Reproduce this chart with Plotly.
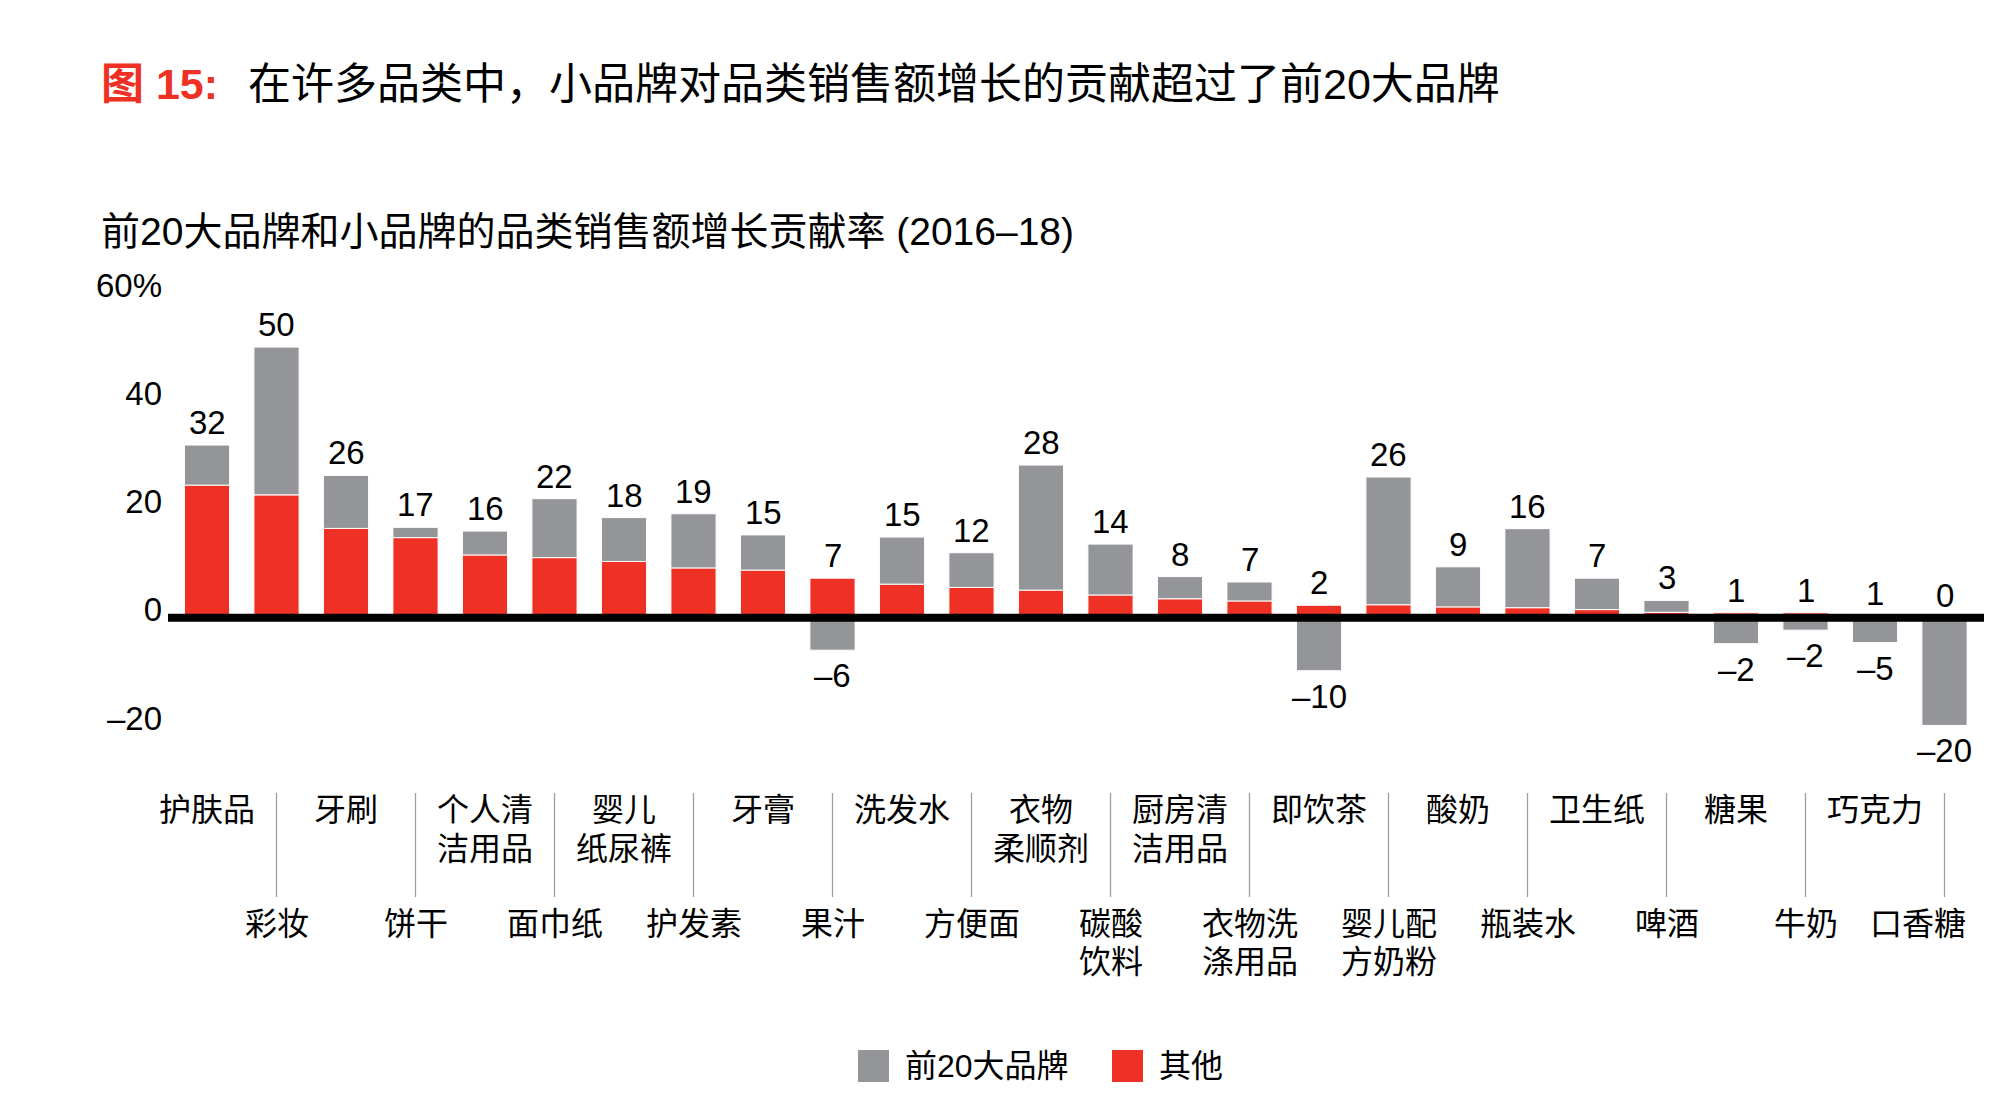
import plotly.graph_objects as go

# ---------------- data ----------------
categories = ["护肤品", "彩妆", "牙刷", "饼干", "个人清\n洁用品", "面巾纸", "婴儿\n纸尿裤", "护发素",
              "牙膏", "果汁", "洗发水", "方便面", "衣物\n柔顺剂", "碳酸\n饮料", "厨房清\n洁用品",
              "衣物洗\n涤用品", "即饮茶", "婴儿配\n方奶粉", "酸奶", "瓶装水", "卫生纸", "啤酒",
              "糖果", "牛奶", "巧克力", "口香糖"]
others = [24.5, 22.7, 16.5, 14.8, 11.6, 11.1, 10.4, 9.2, 8.8, 7.3, 6.2, 5.6, 5.1, 4.2, 3.5,
          3.1, 2.3, 2.4, 2.0, 1.85, 1.5, 1.0, 0.9, 0.9, 0.3, 0.0]
top20 = [7.4, 27.3, 9.8, 1.9, 4.4, 10.9, 8.1, 10.0, 6.5, -6.0, 8.7, 6.4, 23.1, 9.4, 4.1,
         3.5, -9.8, 23.6, 7.4, 14.6, 5.8, 2.2, -4.8, -2.3, -4.6, -19.9]
upper_labels = [32, 50, 26, 17, 16, 22, 18, 19, 15, 7, 15, 12, 28, 14, 8, 7, 2, 26, 9, 16, 7, 3,
                1, 1, 1, 0]
lower_labels = [None, None, None, None, None, None, None, None, None, -6, None, None, None, None,
                None, None, -10, None, None, None, None, None, -2, -2, -5, -20]
y_tickvals = [-20, 0, 20, 40, 60]
y_ticktext = ["–20", "0", "20", "40", "60%"]
series_names = ["前20大品牌", "其他"]

RED = "#EF3125"
GRAY = "#939598"
FONT = "Liberation Sans, Noto Sans CJK SC, sans-serif"

# ---------------- layout geometry ----------------
FW, FH = 2006, 1114
L, R, T, B = 168, 22, 293, 361
W = FW - L - R
H = FH - T - B


def xp(px):
    return (px - L) / W


def yp(py):
    return (T + H - py) / H


def fmt(v):
    return ("–" + str(-v)) if v < 0 else str(v)


xs = list(range(len(categories)))

fig = go.Figure()
fig.add_trace(go.Bar(x=xs, y=others, name=series_names[1], marker_color=RED,
                     marker_line_color="white", marker_line_width=1, width=0.65,
                     showlegend=False))
fig.add_trace(go.Bar(x=xs, y=top20, name=series_names[0], marker_color=GRAY,
                     marker_line_color="white", marker_line_width=1, width=0.65,
                     showlegend=False))

annotations = []
# value labels
for i in xs:
    top = others[i] + (top20[i] if top20[i] > 0 else 0)
    annotations.append(dict(x=i, y=top, xref="x", yref="y", text=fmt(upper_labels[i]),
                            showarrow=False, yanchor="bottom", yshift=2,
                            font=dict(size=33, color="#000", family=FONT)))
    if lower_labels[i] is not None:
        annotations.append(dict(x=i, y=top20[i], xref="x", yref="y", text=fmt(lower_labels[i]),
                                showarrow=False, yanchor="top", yshift=-5,
                                font=dict(size=33, color="#000", family=FONT)))

# category labels (two staggered rows)
LINE = 38.5
n = len(categories)
for i, cat in enumerate(categories):
    first = 810 if i % 2 == 0 else 923.5
    shift = -27 if i == n - 1 else 0
    for k, line in enumerate(cat.split("\n")):
        annotations.append(dict(x=i, y=yp(first + k * LINE), xref="x", yref="paper", text=line,
                                showarrow=False, yanchor="middle", xanchor="center", xshift=shift,
                                font=dict(size=32, color="#000", family=FONT)))

# titles
annotations.append(dict(x=xp(98.5), y=yp(84), xref="paper", yref="paper", text="<b>图 15:</b>",
                        showarrow=False, xanchor="left", yanchor="middle",
                        font=dict(size=43, color=RED, family=FONT)))
annotations.append(dict(x=xp(245.6), y=yp(84), xref="paper", yref="paper",
                        text="在许多品类中，小品牌对品类销售额增长的贡献超过了前20大品牌",
                        showarrow=False, xanchor="left", yanchor="middle",
                        font=dict(size=43, color="#000", family=FONT)))
annotations.append(dict(x=xp(98.5), y=yp(231.5), xref="paper", yref="paper",
                        text="前20大品牌和小品牌的品类销售额增长贡献率 (2016–18)",
                        showarrow=False, xanchor="left", yanchor="middle",
                        font=dict(size=39, color="#000", family=FONT)))

# legend text
annotations.append(dict(x=xp(903), y=yp(1066), xref="paper", yref="paper", text=series_names[0],
                        showarrow=False, xanchor="left", yanchor="middle",
                        font=dict(size=32, color="#000", family=FONT)))
annotations.append(dict(x=xp(1157), y=yp(1066), xref="paper", yref="paper", text=series_names[1],
                        showarrow=False, xanchor="left", yanchor="middle",
                        font=dict(size=32, color="#000", family=FONT)))

shapes = []
# zero line
shapes.append(dict(type="line", xref="paper", yref="y", x0=0, x1=1, y0=0, y1=0,
                   line=dict(color="#000", width=8), layer="above"))
# separators
for i in xs:
    if i % 2 == 1:
        shapes.append(dict(type="line", xref="x", yref="paper", x0=i, x1=i,
                           y0=yp(793), y1=yp(897), line=dict(color="#9d9d9d", width=1.3)))
# legend squares
shapes.append(dict(type="rect", xref="paper", yref="paper", x0=xp(858), x1=xp(889),
                   y0=yp(1082), y1=yp(1050), fillcolor=GRAY, line=dict(width=0)))
shapes.append(dict(type="rect", xref="paper", yref="paper", x0=xp(1112), x1=xp(1143),
                   y0=yp(1082), y1=yp(1050), fillcolor=RED, line=dict(width=0)))

px_per_x = 69.5
x0 = -(207 - L) / px_per_x
x1 = x0 + W / px_per_x

fig.update_layout(
    width=FW, height=FH,
    margin=dict(l=L, r=R, t=T, b=B, pad=0),
    barmode="relative",
    bargap=0.35,
    plot_bgcolor="white", paper_bgcolor="white",
    font=dict(family=FONT, color="#000"),
    annotations=annotations,
    shapes=shapes,
    xaxis=dict(range=[x0, x1], showticklabels=False, showgrid=False, zeroline=False,
               showline=False, ticks=""),
    yaxis=dict(range=[-25, 60], tickvals=y_tickvals, ticktext=y_ticktext, showgrid=False,
               zeroline=False, showline=False, ticks="", ticklabelstandoff=5,
               ticklabelshift=-8, tickfont=dict(size=33, color="#000", family=FONT)),
)

fig.write_html("out.html")
